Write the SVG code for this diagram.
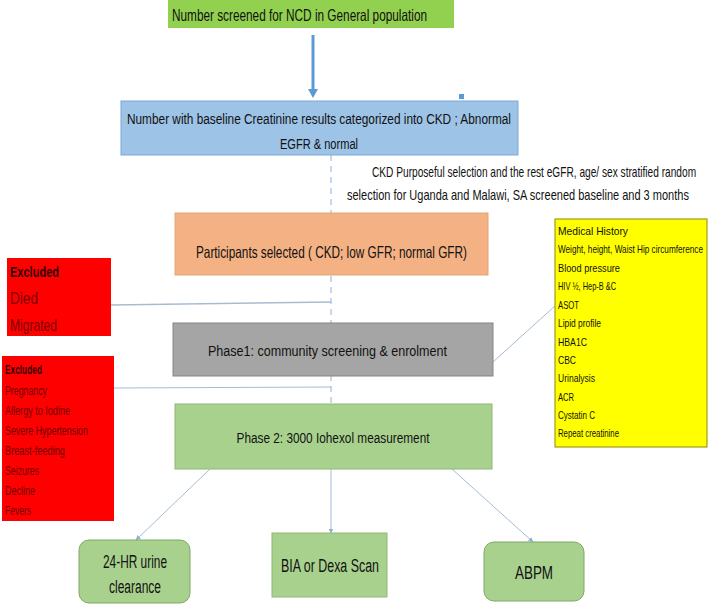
<svg xmlns="http://www.w3.org/2000/svg" width="709" height="608" viewBox="0 0 709 608">
<defs>
<style>
text{font-family:"Liberation Sans",Arial,sans-serif;fill:#111;}
.c{text-anchor:middle;}
.conn{stroke:#a3bcd8;stroke-width:1;fill:none;}
.yl{font-size:10.5px;}
.rl{font-size:12.5px;fill:#6e0000;}
.rb{fill:#7a0000;}
</style>
<marker id="ah" viewBox="0 0 10 10" refX="9" refY="5" markerWidth="5" markerHeight="5" orient="auto">
<path d="M0,0 L10,5 L0,10 z" fill="#8fafd6"/>
</marker>
</defs>
<rect width="709" height="608" fill="#fff"/>

<g id="connectors">
<line x1="331" y1="155" x2="331" y2="404" stroke="#8fb0d8" stroke-width="1" stroke-dasharray="6 5"/>
<line x1="313" y1="35" x2="313" y2="90" stroke="#5b9bd5" stroke-width="3"/>
<path d="M308,89 L318,89 L313,98 z" fill="#5b9bd5"/>
<rect x="459" y="94" width="5" height="5" fill="#5b9bd5"/>
<line x1="111" y1="305" x2="331" y2="302" stroke="#a9bccf" stroke-width="1.6"/>
<line x1="114" y1="388" x2="331" y2="387" class="conn"/>
<line x1="493" y1="362" x2="556" y2="305" class="conn"/>
<line x1="210" y1="469" x2="136" y2="540" class="conn" marker-end="url(#ah)"/>
<line x1="331" y1="469" x2="331" y2="533" class="conn" marker-end="url(#ah)"/>
<line x1="452" y1="469" x2="533" y2="542" class="conn" marker-end="url(#ah)"/>
</g>

<g id="n-screened">
<rect x="168" y="0" width="286" height="28" fill="#92d050"/>
<text x="172" y="21" font-size="16.5" textLength="255" lengthAdjust="spacingAndGlyphs">Number screened for NCD in General population</text>
</g>

<g id="n-baseline">
<rect x="121" y="101" width="397" height="54" fill="#9dc3e6" stroke="#7fa7d4" stroke-width="1"/>
<text x="319" y="124" class="c" font-size="15.5" textLength="384" lengthAdjust="spacingAndGlyphs">Number with baseline Creatinine results categorized into CKD ; Abnormal</text>
<text x="319" y="149" class="c" font-size="15.5" textLength="78" lengthAdjust="spacingAndGlyphs">EGFR &amp; normal</text>
</g>

<g id="n-selection-note">
<text transform="translate(372,177) scale(0.7,1)" x="0" y="0" font-size="14" textLength="463" lengthAdjust="spacingAndGlyphs">CKD Purposeful selection and the rest eGFR, age/ sex stratified random</text>
<text transform="translate(347,200) scale(0.777,1)" x="0" y="0" font-size="14" textLength="440" lengthAdjust="spacingAndGlyphs">selection for Uganda and Malawi, SA screened baseline and 3 months</text>
</g>

<g id="n-participants">
<rect x="175" y="213" width="313" height="62" fill="#f4b183" stroke="#e3a577" stroke-width="1"/>
<text x="196" y="258" font-size="16.5" textLength="271" lengthAdjust="spacingAndGlyphs">Participants selected  ( CKD;  low GFR;  normal GFR)</text>
</g>

<g id="n-excluded1">
<rect x="7" y="258" width="104" height="78" fill="#ff0000"/>
<text x="10" y="277" font-size="15" font-weight="bold" style="fill:#330000" textLength="49" lengthAdjust="spacingAndGlyphs">Excluded</text>
<text class="rb" x="10" y="304" font-size="17" textLength="28" lengthAdjust="spacingAndGlyphs">Died</text>
<text class="rb" x="10" y="331" font-size="17" textLength="47" lengthAdjust="spacingAndGlyphs">Migrated</text>
</g>

<g id="n-phase1">
<rect x="173" y="323" width="320" height="53" fill="#a5a5a5" stroke="#858585" stroke-width="1"/>
<text x="208" y="356" font-size="15.5" textLength="239" lengthAdjust="spacingAndGlyphs">Phase1:  community screening &amp; enrolment</text>
</g>

<g id="n-tests">
<rect x="555" y="219" width="152" height="228" fill="#ffff00" stroke="#8c8c00" stroke-width="1"/>
<text class="yl" x="558" y="235" textLength="70" lengthAdjust="spacingAndGlyphs">Medical History</text>
<text class="yl" transform="translate(558,253) scale(0.763,1)" x="0" y="0" textLength="190" lengthAdjust="spacingAndGlyphs">Weight, height, Waist Hip circumference</text>
<text class="yl" x="558" y="272" textLength="62" lengthAdjust="spacingAndGlyphs">Blood pressure</text>
<text class="yl" x="558" y="290" textLength="58" lengthAdjust="spacingAndGlyphs">HIV ½, Hep-B &amp;C</text>
<text class="yl" x="558" y="309" textLength="21" lengthAdjust="spacingAndGlyphs">ASOT</text>
<text class="yl" x="558" y="327" textLength="43" lengthAdjust="spacingAndGlyphs">Lipid profile</text>
<text class="yl" x="558" y="346" textLength="29" lengthAdjust="spacingAndGlyphs">HBA1C</text>
<text class="yl" x="558" y="364" textLength="18" lengthAdjust="spacingAndGlyphs">CBC</text>
<text class="yl" x="558" y="382" textLength="37" lengthAdjust="spacingAndGlyphs">Urinalysis</text>
<text class="yl" x="558" y="401" textLength="16" lengthAdjust="spacingAndGlyphs">ACR</text>
<text class="yl" x="558" y="419" textLength="37" lengthAdjust="spacingAndGlyphs">Cystatin C</text>
<text class="yl" x="558" y="437" textLength="61" lengthAdjust="spacingAndGlyphs">Repeat creatinine</text>
</g>

<g id="n-excluded2">
<rect x="2" y="356" width="112" height="165" fill="#ff0000"/>
<text x="5" y="374" font-size="12" font-weight="bold" style="fill:#330000" textLength="37" lengthAdjust="spacingAndGlyphs">Excluded</text>
<text class="rl" x="5" y="395" textLength="42" lengthAdjust="spacingAndGlyphs">Pregnancy</text>
<text class="rl" x="5" y="415" textLength="65" lengthAdjust="spacingAndGlyphs">Allergy to Iodine</text>
<text class="rl" x="5" y="435" textLength="83" lengthAdjust="spacingAndGlyphs">Severe Hypertension</text>
<text class="rl" x="5" y="455" textLength="60" lengthAdjust="spacingAndGlyphs">Breast-feeding</text>
<text class="rl" x="5" y="475" textLength="34" lengthAdjust="spacingAndGlyphs">Seizures</text>
<text class="rl" x="5" y="495" textLength="30" lengthAdjust="spacingAndGlyphs">Decline</text>
<text class="rl" x="5" y="515" textLength="26" lengthAdjust="spacingAndGlyphs">Fevers</text>
</g>

<g id="n-phase2">
<rect x="175" y="404" width="317" height="65" fill="#a9d18e" stroke="#8db873" stroke-width="1"/>
<text x="333" y="443" class="c" font-size="15.5" textLength="193" lengthAdjust="spacingAndGlyphs">Phase 2: 3000 Iohexol measurement</text>
</g>

<g id="n-urine">
<rect x="79" y="540" width="111" height="63" rx="10" fill="#a9d18e" stroke="#7fa866" stroke-width="1"/>
<text x="135" y="568" class="c" font-size="18" textLength="64" lengthAdjust="spacingAndGlyphs">24-HR urine</text>
<text x="135" y="593" class="c" font-size="18" textLength="52" lengthAdjust="spacingAndGlyphs">clearance</text>
</g>

<g id="n-bia">
<rect x="272" y="533" width="115" height="64" fill="#a9d18e" stroke="#8db873" stroke-width="1"/>
<text x="330" y="572" class="c" font-size="18" textLength="98" lengthAdjust="spacingAndGlyphs">BIA or Dexa Scan</text>
</g>

<g id="n-abpm">
<rect x="484" y="542" width="100" height="59" rx="10" fill="#a9d18e" stroke="#7fa866" stroke-width="1"/>
<text x="534" y="579" class="c" font-size="18" textLength="38" lengthAdjust="spacingAndGlyphs">ABPM</text>
</g>
</svg>
